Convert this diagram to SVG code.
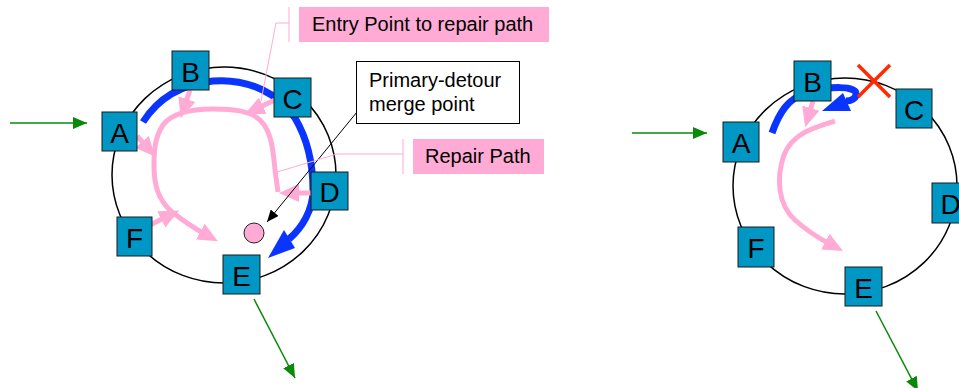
<svg xmlns="http://www.w3.org/2000/svg" width="959" height="388" viewBox="0 0 959 388">
<style>
.ring{fill:none;stroke:#000;stroke-width:1.5}
.node rect{fill:#0097c4;stroke:#1a1a1a;stroke-width:1}
.node text{font-family:"Liberation Sans",Arial,sans-serif;font-size:28px;fill:#000;text-anchor:middle}
.blue{fill:none;stroke:#0a34ff;stroke-width:7}
.bluehead{fill:#0a34ff}
.pink{fill:none;stroke:#ffabd5;stroke-width:5;marker-end:url(#ph)}
.green{fill:none;stroke:#078a07;stroke-width:1.5;marker-end:url(#gh)}
.thinpink{fill:none;stroke:#ffabd5;stroke-width:1}
.lbl{font-family:"Liberation Sans",Arial,sans-serif;font-size:20px;fill:#000}
.red{stroke:#ff2a00;stroke-width:3.5}
</style>
<defs>
<marker id="ph" viewBox="0 0 20 20" markerWidth="20" markerHeight="20" markerUnits="userSpaceOnUse" refX="3" refY="10" orient="auto">
<path d="M0,1 L20,10 L0,19 z" fill="#ffabd5"/>
</marker>
<marker id="gh" viewBox="0 0 14 12" markerWidth="14" markerHeight="12" markerUnits="userSpaceOnUse" refX="14" refY="6" orient="auto">
<path d="M0,0 L14,6 L0,12 z" fill="#078a07"/>
</marker>
<marker id="bh" viewBox="0 0 12 10" markerWidth="12" markerHeight="10" markerUnits="userSpaceOnUse" refX="12" refY="5" orient="auto">
<path d="M0,0 L12,5 L0,10 z" fill="#000"/>
</marker>
</defs>

<ellipse class="ring" cx="224" cy="175" rx="112" ry="108"/>
<ellipse class="ring" cx="845" cy="186" rx="112" ry="108"/>

<g id="connectors">
<!-- left diagram -->
<path class="green" d="M10,123 L87,123"/>
<path class="green" d="M254,299 L295,378"/>
<path class="blue" d="M143,122 C155,103 175,85 213,81 C250,78 280,95 295,118 C308,140 313,165 313,190 C313,210 302,228 289,239"/>
<polygon class="bluehead" points="268,258 295,248 284,230"/>
<path class="pink" d="M278,192 L275,170 C273,150 272,132 260,120 C250,111 235,109 213,109 C190,109 172,113 163,125 C155,137 154,150 154,165 C154,185 158,200 172,212 C185,222 192,227 203,233"/>
<path class="pink" d="M190,90 L186,102"/>
<path class="pink" d="M275,100 L260,107"/>
<path class="pink" d="M137,136 L144,144"/>
<path class="pink" d="M150,225 L164,218"/>
<path class="pink" d="M312,193 L296,193"/>
<path d="M357,112 L267,222" fill="none" stroke="#000" stroke-width="1" marker-end="url(#bh)"/>
<path class="thinpink" d="M289,23 L276,23 L261,101"/>
<path class="thinpink" d="M403,154 L337,154 L277,172"/>
<!-- right diagram -->
<path class="green" d="M632,133 L707,133"/>
<path class="green" d="M876,311 L918,391"/>
<path class="blue" d="M772,133 C779,113 788,98 808,92 C830,86 855,86 856,93 C857,99 850,101 846,101"/>
<polygon class="bluehead" points="822,111 851,111 843,93"/>
<path class="pink" d="M835,121 C812,128 792,134 784,155 C776,178 778,205 795,220 C805,229 815,236 828,243"/>
<path class="pink" d="M813,101 L810,111"/>
<line class="red" x1="858" y1="65" x2="890" y2="97"/>
<line class="red" x1="890" y1="65" x2="858" y2="97"/>
</g>

<circle id="merge" cx="254" cy="233" r="10" fill="#ffabd5" stroke="#222" stroke-width="1"/>

<g id="L-A" class="node"><rect x="102" y="112" width="35" height="39"/><text x="119.5" y="143">A</text></g>
<g id="L-B" class="node"><rect x="172" y="51" width="37" height="39"/><text x="190.5" y="82">B</text></g>
<g id="L-C" class="node"><rect x="274" y="78" width="37" height="39"/><text x="292.5" y="109">C</text></g>
<g id="L-D" class="node"><rect x="311" y="172" width="37" height="38"/><text x="329.5" y="202">D</text></g>
<g id="L-E" class="node"><rect x="223" y="255" width="37" height="39"/><text x="241.5" y="286">E</text></g>
<g id="L-F" class="node"><rect x="117" y="217" width="35" height="39"/><text x="134.5" y="248">F</text></g>

<g id="R-A" class="node"><rect x="723" y="122" width="36" height="40"/><text x="741" y="153">A</text></g>
<g id="R-B" class="node"><rect x="794" y="61" width="37" height="40"/><text x="812.5" y="92">B</text></g>
<g id="R-C" class="node"><rect x="896" y="89" width="36" height="39"/><text x="914" y="120">C</text></g>
<g id="R-D" class="node"><rect x="932" y="183" width="37" height="40"/><text x="950.5" y="214">D</text></g>
<g id="R-E" class="node"><rect x="845" y="267" width="37" height="39"/><text x="863.5" y="298">E</text></g>
<g id="R-F" class="node"><rect x="738" y="227" width="36" height="40"/><text x="756" y="258">F</text></g>

<g id="entry-label">
<line class="thinpink" x1="289" y1="7" x2="289" y2="42"/>
<rect x="299" y="7" width="250" height="35" fill="#ffabd5"/>
<text class="lbl" x="312" y="31">Entry Point to repair path</text>
</g>
<g id="repair-label">
<line class="thinpink" x1="403" y1="139" x2="403" y2="174"/>
<rect x="413" y="139" width="131" height="35" fill="#ffabd5"/>
<text class="lbl" x="425" y="163">Repair Path</text>
</g>
<g id="merge-label">
<rect x="356.5" y="61.5" width="163" height="62" fill="#fff" stroke="#000" stroke-width="1"/>
<text class="lbl" x="369" y="87">Primary-detour</text>
<text class="lbl" x="369" y="111">merge point</text>
</g>
</svg>
